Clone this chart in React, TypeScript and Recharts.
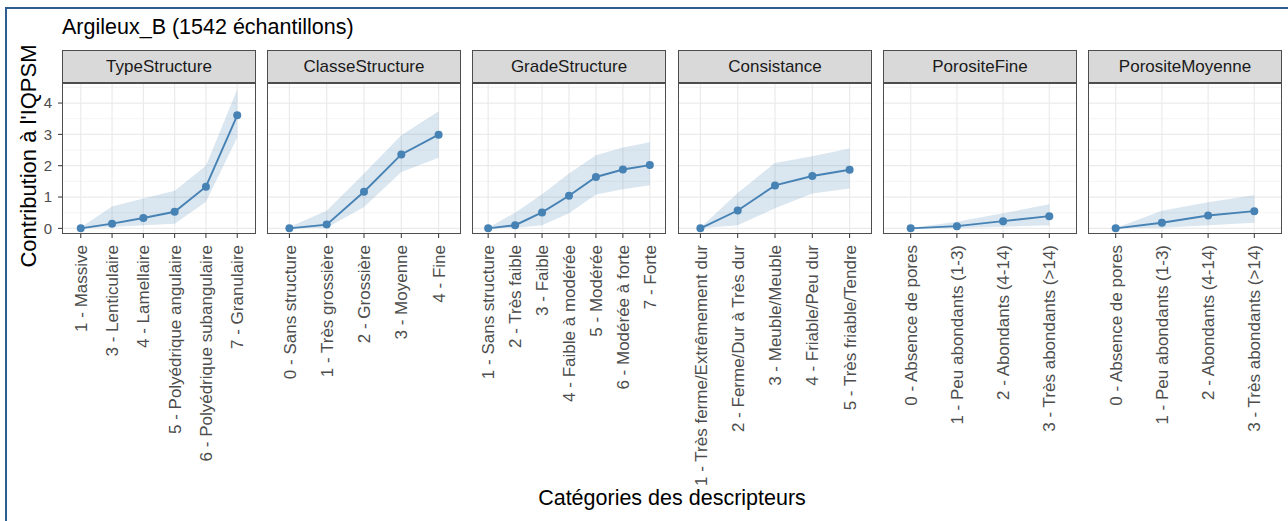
import React from "react";
import { Area, CartesianGrid, ComposedChart, Line, XAxis, YAxis } from "recharts";

const FONT = '"Liberation Sans", Arial, Helvetica, sans-serif';
const STEEL = "#4682B4";

// --- data ---
const typeLabels = [
  "1 - Massive",
  "3 - Lenticulaire",
  "4 - Lamellaire",
  "5 - Polyédrique angulaire",
  "6 - Polyédrique subangulaire",
  "7 - Granulaire",
];
const typeValues = [0, 0.15, 0.33, 0.53, 1.33, 3.61];
const typeLow = [0, 0.04, 0.1, 0.15, 0.85, 2.9];
const typeHigh = [0.03, 0.7, 0.95, 1.2, 2.0, 4.43];

const classeLabels = [
  "0 - Sans structure",
  "1 - Très grossière",
  "2 - Grossière",
  "3 - Moyenne",
  "4 - Fine",
];
const classeValues = [0, 0.12, 1.17, 2.36, 2.99];
const classeLow = [0, 0.02, 0.68, 1.8, 2.25];
const classeHigh = [0.04, 0.56, 1.75, 2.97, 3.74];

const gradeLabels = [
  "1 - Sans structure",
  "2 - Très faible",
  "3 - Faible",
  "4 - Faible à modérée",
  "5 - Modérée",
  "6 - Modérée à forte",
  "7 - Forte",
];
const gradeValues = [0, 0.1, 0.51, 1.04, 1.64, 1.88, 2.02];
const gradeLow = [0, 0.02, 0.1, 0.48, 1.08, 1.25, 1.38];
const gradeHigh = [0.02, 0.5, 1.09, 1.75, 2.33, 2.58, 2.75];

const consLabels = [
  "1 - Très ferme/Extrêmement dur",
  "2 - Ferme/Dur à Très dur",
  "3 - Meuble/Meuble",
  "4 - Friable/Peu dur",
  "5 - Très friable/Tendre",
];
const consValues = [0, 0.57, 1.37, 1.67, 1.87];
const consLow = [0, 0.1, 0.64, 1.11, 1.27];
const consHigh = [0.02, 1.13, 2.09, 2.3, 2.55];

const poreLabels = [
  "0 - Absence de pores",
  "1 - Peu abondants (1-3)",
  "2 - Abondants (4-14)",
  "3 - Très abondants (>14)",
];
const fineValues = [0, 0.07, 0.23, 0.39];
const fineLow = [0, 0.01, 0.05, 0.1];
const fineHigh = [0.01, 0.21, 0.48, 0.77];

const moyValues = [0, 0.18, 0.41, 0.55];
const moyLow = [0, 0.02, 0.1, 0.18];
const moyHigh = [0.01, 0.56, 0.83, 1.06];

const yTicks = [0, 1, 2, 3, 4];
const yMinor = [0.5, 1.5, 2.5, 3.5, 4.5];

const panels = [
  { title: "TypeStructure", labels: typeLabels, values: typeValues, low: typeLow, high: typeHigh },
  { title: "ClasseStructure", labels: classeLabels, values: classeValues, low: classeLow, high: classeHigh },
  { title: "GradeStructure", labels: gradeLabels, values: gradeValues, low: gradeLow, high: gradeHigh },
  { title: "Consistance", labels: consLabels, values: consValues, low: consLow, high: consHigh },
  { title: "PorositeFine", labels: poreLabels, values: fineValues, low: fineLow, high: fineHigh },
  { title: "PorositeMoyenne", labels: poreLabels, values: moyValues, low: moyLow, high: moyHigh },
];

// --- layout ---
const PANEL_LEFT = [62, 267, 472, 678, 883, 1088];
const PANEL_W = 194;
const STRIP_TOP = 50;
const PLOT_TOP = 83;
const PLOT_H = 151;
const AXIS_H = 262;
const Y_AXIS_W = 30;
const Y_DOMAIN = [-0.18, 4.64];

const RotTick = (props) => {
  const { x, y, payload, labels } = props;
  return (
    <g transform={`translate(${x},${y})`}>
      <text
        transform="rotate(-90)"
        textAnchor="end"
        dy="0.36em"
        fontSize={17}
        fill="#4D4D4D"
        fontFamily={FONT}
      >
        {labels[payload.value]}
      </text>
    </g>
  );
};

const Panel = ({ p, i }) => {
  const first = i === 0;
  const left = PANEL_LEFT[i] - (first ? Y_AXIS_W : 0);
  const w = PANEL_W + (first ? Y_AXIS_W : 0);
  const n = p.labels.length;
  const idx = p.labels.map((_, k) => k);
  const data = idx.map((k) => ({ idx: k, v: p.values[k], band: [p.low[k], p.high[k]] }));

  return (
    <div style={{ position: "absolute", left, top: PLOT_TOP }}>
      <ComposedChart
        width={w}
        height={PLOT_H + AXIS_H}
        data={data}
        margin={{ top: 0, right: 0, bottom: 0, left: 0 }}
      >
        <CartesianGrid horizontalValues={yMinor} vertical={false} stroke="#EFEFEF" strokeWidth={0.7} />
        <CartesianGrid horizontalValues={yTicks} verticalValues={idx} stroke="#EBEBEB" strokeWidth={1.2} />
        <XAxis
          dataKey="idx"
          type="number"
          domain={[-0.6, n - 0.4]}
          ticks={idx}
          interval={0}
          allowDataOverflow
          height={AXIS_H}
          tickSize={4}
          tickMargin={7}
          axisLine={false}
          tickLine={{ stroke: "#333333" }}
          tick={(tp) => <RotTick {...tp} labels={p.labels} />}
        />
        <YAxis
          type="number"
          domain={Y_DOMAIN}
          ticks={yTicks}
          allowDataOverflow
          hide={!first}
          width={Y_AXIS_W}
          tickSize={4}
          tickMargin={6}
          axisLine={false}
          tickLine={{ stroke: "#333333" }}
          tick={{ fontSize: 15, fill: "#4D4D4D", fontFamily: FONT }}
        />
        <Area
          dataKey="band"
          type="linear"
          stroke="none"
          fill={STEEL}
          fillOpacity={0.2}
          isAnimationActive={false}
        />
        <Line
          dataKey="v"
          type="linear"
          stroke={STEEL}
          strokeWidth={1.9}
          dot={{ r: 4, fill: STEEL, stroke: STEEL, strokeWidth: 0 }}
          isAnimationActive={false}
        />
      </ComposedChart>
    </div>
  );
};

export default function App() {
  return (
    <div
      style={{
        position: "absolute",
        left: 0,
        top: 0,
        width: 1288,
        height: 521,
        background: "#ffffff",
        fontFamily: FONT,
        overflow: "hidden",
      }}
    >
      <div
        style={{
          position: "absolute",
          left: 5,
          top: 7,
          width: 1300,
          height: 530,
          borderTop: "2px solid #2F5D8F",
          borderLeft: "2px solid #2F5D8F",
        }}
      />
      <div style={{ position: "absolute", left: 62, top: 17, fontSize: 21.5, lineHeight: 1, color: "#000" }}>
        Argileux_B (1542 échantillons)
      </div>
      <div
        style={{
          position: "absolute",
          left: 29,
          top: 156,
          transform: "translate(-50%, -50%) rotate(-90deg)",
          fontSize: 22,
          whiteSpace: "nowrap",
          color: "#000",
        }}
      >
        Contribution à l'IQPSM
      </div>
      <div
        style={{
          position: "absolute",
          left: 672,
          top: 498,
          transform: "translate(-50%, -50%)",
          fontSize: 21.5,
          whiteSpace: "nowrap",
          color: "#000",
        }}
      >
        Catégories des descripteurs
      </div>

      {panels.map((p, i) => (
        <Panel key={p.title} p={p} i={i} />
      ))}

      {panels.map((p, i) => (
        <React.Fragment key={"f" + p.title}>
          <div
            style={{
              position: "absolute",
              left: PANEL_LEFT[i],
              top: STRIP_TOP,
              width: PANEL_W,
              height: PLOT_TOP - STRIP_TOP,
              boxSizing: "border-box",
              background: "#D9D9D9",
              border: "1px solid #4D4D4D",
              display: "flex",
              alignItems: "center",
              justifyContent: "center",
              fontSize: 17,
              color: "#1A1A1A",
            }}
          >
            {p.title}
          </div>
          <div
            style={{
              position: "absolute",
              left: PANEL_LEFT[i],
              top: PLOT_TOP,
              width: PANEL_W,
              height: PLOT_H,
              boxSizing: "border-box",
              border: "1px solid #4D4D4D",
              pointerEvents: "none",
            }}
          />
        </React.Fragment>
      ))}
    </div>
  );
}
